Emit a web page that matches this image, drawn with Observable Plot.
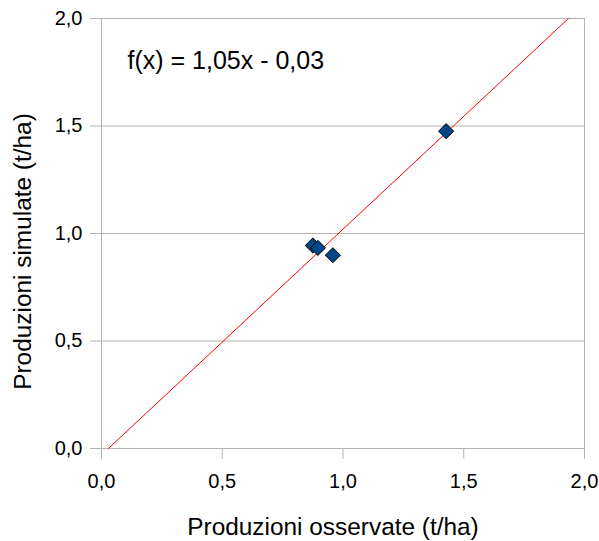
<!DOCTYPE html>
<html>
<head>
<meta charset="utf-8">
<script src="https://cdn.jsdelivr.net/npm/d3@7"></script>
<script src="https://cdn.jsdelivr.net/npm/@observablehq/plot@0.6"></script>
<style>
  html, body { margin: 0; padding: 0; background: #fff; }
  #chart { width: 599px; height: 541px; }
</style>
</head>
<body>
<div id="chart"></div>
<script>
// Data
const observed = [0.875, 0.896, 0.958, 1.427];
const simulated = [0.944, 0.933, 0.899, 1.476];
const slope = 1.05;
const intercept = -0.03;
const tickValues = [0, 0.5, 1.0, 1.5, 2.0];
const equationLabel = "f(x) = 1,05x - 0,03";
const xTitle = "Produzioni osservate (t/ha)";
const yTitle = "Produzioni simulate (t/ha)";

const points = observed.map((x, i) => ({x, y: simulated[i]}));
// trend line spanning the y domain [0, 2]
const trend = [0, 2].map(y => ({x: (y - intercept) / slope, y}));

const fmt = d => d.toFixed(1).replace(".", ",");
const font = "Liberation Sans, Arial, sans-serif";

const chart = Plot.plot({
  width: 599,
  height: 541,
  marginLeft: 101,
  marginRight: 15,
  marginTop: 18,
  marginBottom: 93,
  style: {fontFamily: font, fontSize: "20px", color: "#000", background: "#fff", overflow: "visible"},
  x: {domain: [0, 2], label: null},
  y: {domain: [0, 2], label: null},
  marks: [
    Plot.gridY(tickValues, {stroke: "#b3b3b3", strokeOpacity: 1, strokeWidth: 1}),
    Plot.frame({stroke: "#b3b3b3", strokeWidth: 1}),
    Plot.axisX({ticks: tickValues, tickFormat: fmt, tickSize: 11, tickPadding: 14, stroke: "#b3b3b3", fill: "#000", fontSize: 20, label: null}),
    Plot.axisY({ticks: tickValues, tickFormat: fmt, tickSize: 11, tickPadding: 8, stroke: "#b3b3b3", fill: "#000", fontSize: 20, label: null}),
    Plot.line(trend, {x: "x", y: "y", stroke: "#ff0000", strokeWidth: 1}),
    Plot.dot(points, {x: "x", y: "y", symbol: "diamond2", r: 6.8, fill: "#004586", stroke: "#000", strokeWidth: 1}),
    Plot.text([equationLabel], {frameAnchor: "top-left", dx: 26, dy: 33, textAnchor: "start", lineAnchor: "top", fontSize: 25, fill: "#000", text: d => d}),
    Plot.text([xTitle], {frameAnchor: "bottom", dx: -10, dy: 69, textAnchor: "middle", lineAnchor: "top", fontSize: 24.4, fill: "#000", text: d => d}),
    Plot.text([yTitle], {frameAnchor: "left", dx: -78, dy: 18, rotate: -90, textAnchor: "middle", lineAnchor: "middle", fontSize: 24.4, fill: "#000", text: d => d})
  ]
});
document.getElementById("chart").appendChild(chart);
</script>
</body>
</html>
